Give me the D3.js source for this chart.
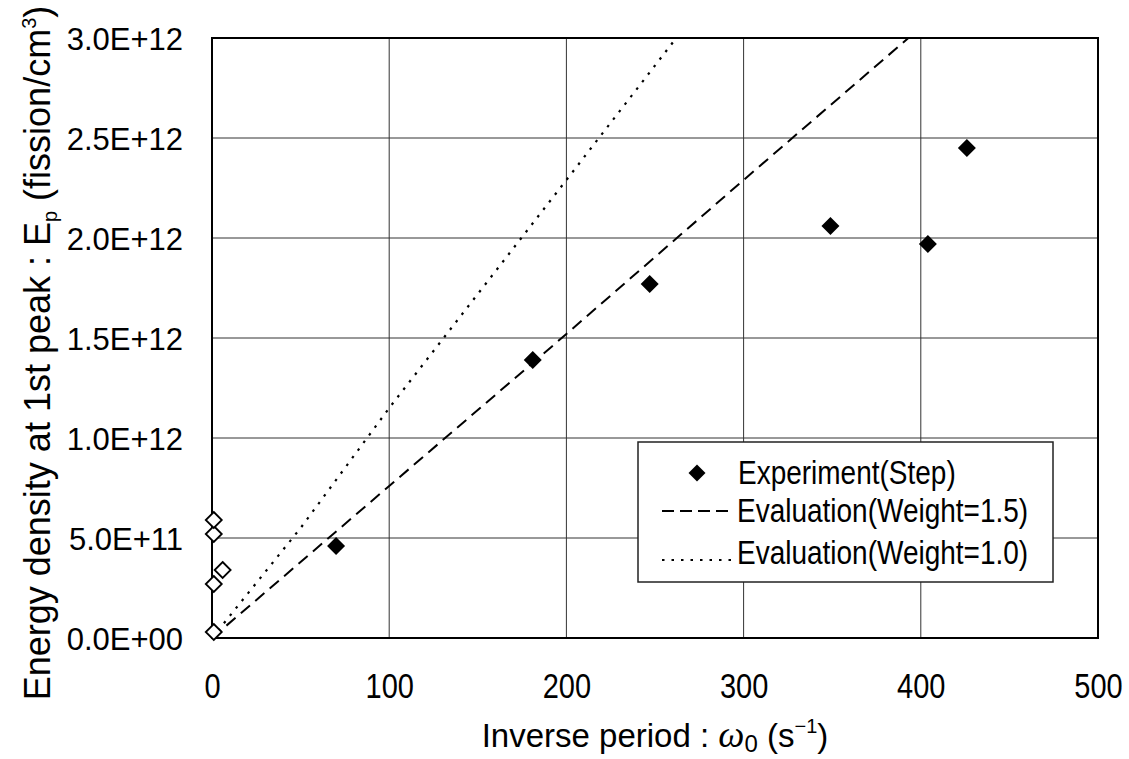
<!DOCTYPE html>
<html>
<head>
<meta charset="utf-8">
<script src="https://cdn.jsdelivr.net/npm/d3@7/dist/d3.min.js"></script>
<style>
  html, body { margin: 0; padding: 0; background: #fff; }
  svg { display: block; }
  text { font-family: "Liberation Sans", Arial, sans-serif; fill: #000; }
</style>
</head>
<body>
<svg id="chart" width="1129" height="759"></svg>
<script>
// Experiment (step insertion): inverse period vs. energy density at 1st peak
const stepOmega  = [70, 181, 247, 349, 404, 426];
const stepEnergy = [0.46e12, 1.39e12, 1.77e12, 2.06e12, 1.97e12, 2.45e12];

// Additional measurements near zero inverse period (open diamonds)
const lowOmega  = [1, 1, 6, 1, 1];
const lowEnergy = [0.03e12, 0.27e12, 0.34e12, 0.52e12, 0.59e12];

// Evaluation curves
const evalW15Omega  = [0, 100, 200, 300, 393];
const evalW15Energy = [0, 0.76e12, 1.52e12, 2.29e12, 3.0e12];
const evalW10Omega  = [0, 50, 100, 200, 262];
const evalW10Energy = [0, 0.55e12, 1.15e12, 2.29e12, 3.0e12];

// Axis ticks
const xTicks = [0, 100, 200, 300, 400, 500];
const yTicks = [0, 0.5e12, 1.0e12, 1.5e12, 2.0e12, 2.5e12, 3.0e12];
const yTickLabels = ["0.0E+00", "5.0E+11", "1.0E+12", "1.5E+12", "2.0E+12", "2.5E+12", "3.0E+12"];

const legendLabels = ["Experiment(Step)", "Evaluation(Weight=1.5)", "Evaluation(Weight=1.0)"];

const svg = d3.select("#chart");
const m = { left: 212, right: 1098, top: 38, bottom: 638 };
const TALL = 1.2; // vertical stretch for the tall gothic-style lettering

const x = d3.scaleLinear().domain([0, 500]).range([m.left, m.right]);
const y = d3.scaleLinear().domain([0, 3.0e12]).range([m.bottom, m.top]);

// Gridlines
const grid = svg.append("g");
grid.selectAll("line.v").data(xTicks.slice(1, -1)).join("line")
  .attr("x1", d => x(d)).attr("x2", d => x(d))
  .attr("y1", m.top).attr("y2", m.bottom)
  .attr("stroke", "#333").attr("stroke-width", 1);
grid.selectAll("line.h").data(yTicks.slice(1, -1)).join("line")
  .attr("x1", m.left).attr("x2", m.right)
  .attr("y1", d => y(d)).attr("y2", d => y(d))
  .attr("stroke", "#333").attr("stroke-width", 1);

// Plot frame
svg.append("rect")
  .attr("x", m.left).attr("y", m.top)
  .attr("width", m.right - m.left).attr("height", m.bottom - m.top)
  .attr("fill", "none").attr("stroke", "#000").attr("stroke-width", 2);

// Axes (labels only; the frame carries the lines)
const xAxis = d3.axisBottom(x).tickValues(xTicks).tickSize(0).tickPadding(0).tickFormat(d3.format("d"));
const gx = svg.append("g").attr("transform", `translate(0,${m.bottom})`).call(xAxis);
gx.select(".domain").remove();
gx.selectAll("text")
  .attr("font-size", 29).attr("font-family", null)
  .attr("y", 60 / TALL).attr("dy", 0)
  .attr("transform", `scale(1,${TALL})`);

const yAxis = d3.axisLeft(y).tickValues(yTicks).tickSize(0).tickPadding(29)
  .tickFormat((d, i) => yTickLabels[i]);
const gy = svg.append("g").attr("transform", `translate(${m.left},0)`).call(yAxis);
gy.select(".domain").remove();
gy.selectAll("text").attr("font-size", 31).attr("dy", "0.36em").attr("font-family", null);

// Evaluation lines
const line = d3.line().x(d => x(d[0])).y(d => y(d[1]));
const w15 = evalW15Omega.map((d, i) => [d, evalW15Energy[i]]);
const w10 = evalW10Omega.map((d, i) => [d, evalW10Energy[i]]);
svg.append("path").datum(w15).attr("d", line)
  .attr("fill", "none").attr("stroke", "#000").attr("stroke-width", 2)
  .attr("stroke-dasharray", "12,7");
svg.append("path").datum(w10).attr("d", line)
  .attr("fill", "none").attr("stroke", "#000").attr("stroke-width", 2.2)
  .attr("stroke-dasharray", "2.5,7");

// Markers
const diamond = s => `M0,${-s}L${s},0L0,${s}L${-s},0Z`;
svg.append("g").selectAll("path").data(lowOmega.map((d, i) => [d, lowEnergy[i]])).join("path")
  .attr("d", diamond(8))
  .attr("transform", d => `translate(${x(d[0])},${y(d[1])})`)
  .attr("fill", "#fff").attr("stroke", "#000").attr("stroke-width", 1.8);
svg.append("g").selectAll("path").data(stepOmega.map((d, i) => [d, stepEnergy[i]])).join("path")
  .attr("d", diamond(9))
  .attr("transform", d => `translate(${x(d[0])},${y(d[1])})`)
  .attr("fill", "#000");

// Legend
const lg = svg.append("g");
lg.append("rect").attr("x", 638).attr("y", 442).attr("width", 415).attr("height", 140)
  .attr("fill", "#fff").attr("stroke", "#222").attr("stroke-width", 1.5);
const baselines = [484, 522, 564];
lg.append("path").attr("d", diamond(8.5)).attr("transform", `translate(697,473)`).attr("fill", "#000");
lg.append("line").attr("x1", 662).attr("x2", 734).attr("y1", 511).attr("y2", 511)
  .attr("stroke", "#000").attr("stroke-width", 2).attr("stroke-dasharray", "12,6");
lg.append("line").attr("x1", 662).attr("x2", 734).attr("y1", 560).attr("y2", 560)
  .attr("stroke", "#000").attr("stroke-width", 2).attr("stroke-dasharray", "2.5,7");
lg.selectAll("text").data(legendLabels).join("text")
  .attr("transform", (d, i) => `translate(${i === 0 ? 738 : 737},${baselines[i]}) scale(1,${TALL})`)
  .attr("font-size", 28)
  .text(d => d);

// Axis titles
const xt = svg.append("text").attr("x", 655).attr("y", 747).attr("text-anchor", "middle").attr("font-size", 33);
xt.append("tspan").text("Inverse period : ");
xt.append("tspan").attr("font-style", "italic").attr("font-family", "Liberation Serif, serif").attr("font-size", 37).text("ω");
xt.append("tspan").attr("font-size", 24).attr("dy", 5).text("0");
xt.append("tspan").attr("dy", -5).text(" (s");
xt.append("tspan").attr("font-size", 20).attr("dy", -14).text("−1");
xt.append("tspan").attr("dy", 14).text(")");

const yt = svg.append("text").attr("transform", "translate(50,353) rotate(-90)")
  .attr("text-anchor", "middle").attr("font-size", 36);
yt.append("tspan").text("Energy density at 1st peak : E");
yt.append("tspan").attr("font-size", 20).attr("dy", 7).text("p");
yt.append("tspan").attr("dy", -7).text(" (fission/cm");
yt.append("tspan").attr("font-size", 20).attr("dy", -14).text("3");
yt.append("tspan").attr("dy", 14).text(")");
</script>
</body>
</html>
